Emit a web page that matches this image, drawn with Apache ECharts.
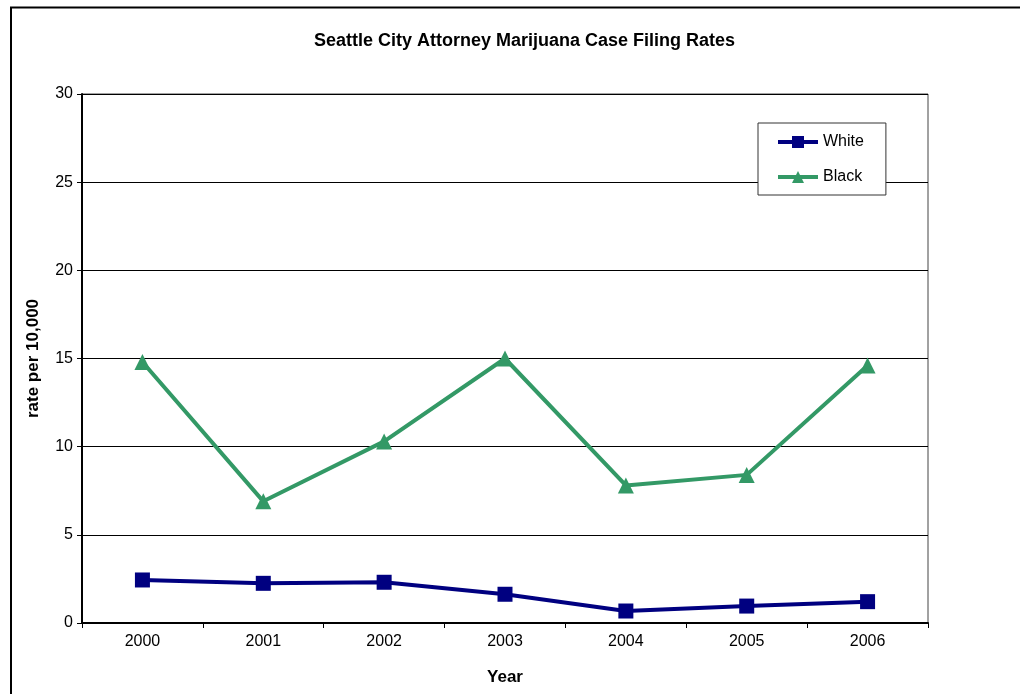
<!DOCTYPE html>
<html>
<head>
<meta charset="utf-8">
<script src="https://cdn.jsdelivr.net/npm/echarts@6/dist/echarts.min.js"></script>
<style>
html,body{margin:0;padding:0;background:#fff;}
#chart{width:1020px;height:694px;}
</style>
</head>
<body>
<div id="chart"></div>
<script>
var years = ['2000','2001','2002','2003','2004','2005','2006'];
var whiteRates = [2.44, 2.25, 2.31, 1.63, 0.68, 0.96, 1.21];
var blackRates = [14.8, 6.9, 10.3, 15.0, 7.8, 8.4, 14.6];
var yTicks = {min: 0, max: 30, interval: 5};

var FONT = '"Liberation Sans", Arial, sans-serif';
var chart = echarts.init(document.getElementById('chart'));
chart.setOption({
  animation: false,
  backgroundColor: '#fff',
  textStyle: {fontFamily: FONT},
  title: {
    text: 'Seattle City Attorney Marijuana Case Filing Rates',
    left: 309,
    top: 27,
    textStyle: {fontFamily: FONT, fontSize: 18, fontWeight: 'bold', color: '#000'}
  },
  graphic: [{
    type: 'rect',
    shape: {x: 11, y: 7.5, width: 1040, height: 720},
    style: {fill: 'none', stroke: '#000', lineWidth: 2},
    silent: true, z: -1
  }],
  grid: {
    left: 82, right: 92, top: 94, bottom: 71,
    show: true, borderColor: '#444', borderWidth: 1, backgroundColor: 'transparent'
  },
  legend: {
    orient: 'vertical',
    left: 758, top: 123,
    backgroundColor: '#fff',
    borderColor: '#333', borderWidth: 1,
    padding: [11, 22, 10, 18],
    itemGap: 19,
    itemWidth: 40, itemHeight: 15,
    lineStyle: {width: 4},
    textStyle: {fontFamily: FONT, fontSize: 16, color: '#000'},
    data: ['White', 'Black']
  },
  xAxis: {
    type: 'category',
    data: years,
    boundaryGap: true,
    name: 'Year',
    nameLocation: 'middle',
    nameGap: 46,
    nameTextStyle: {fontFamily: FONT, fontSize: 17, fontWeight: 'bold', color: '#000'},
    axisLine: {lineStyle: {color: '#000', width: 2}},
    axisTick: {show: true, interval: 0, length: 5, lineStyle: {color: '#000'}},
    axisLabel: {fontFamily: FONT, fontSize: 16, color: '#000', margin: 11},
    splitLine: {show: false}
  },
  yAxis: {
    type: 'value',
    min: yTicks.min, max: yTicks.max, interval: yTicks.interval,
    name: 'rate per 10,000',
    nameLocation: 'middle',
    nameGap: 40,
    nameTextStyle: {fontFamily: FONT, fontSize: 17, fontWeight: 'bold', color: '#000'},
    axisLine: {show: true, lineStyle: {color: '#000', width: 2}},
    axisTick: {show: true, length: 5, lineStyle: {color: '#000'}},
    axisLabel: {fontFamily: FONT, fontSize: 16, color: '#000', margin: 9},
    splitLine: {show: true, lineStyle: {color: '#000', width: 1}}
  },
  series: [
    {
      name: 'White', type: 'line', data: whiteRates,
      symbol: 'rect', symbolSize: 15,
      lineStyle: {color: '#000080', width: 4},
      itemStyle: {color: '#000080'},
      z: 3
    },
    {
      name: 'Black', type: 'line', data: blackRates,
      symbol: 'triangle', symbolSize: 16,
      lineStyle: {color: '#339966', width: 4},
      itemStyle: {color: '#339966'},
      z: 2
    }
  ]
});
</script>
</body>
</html>
